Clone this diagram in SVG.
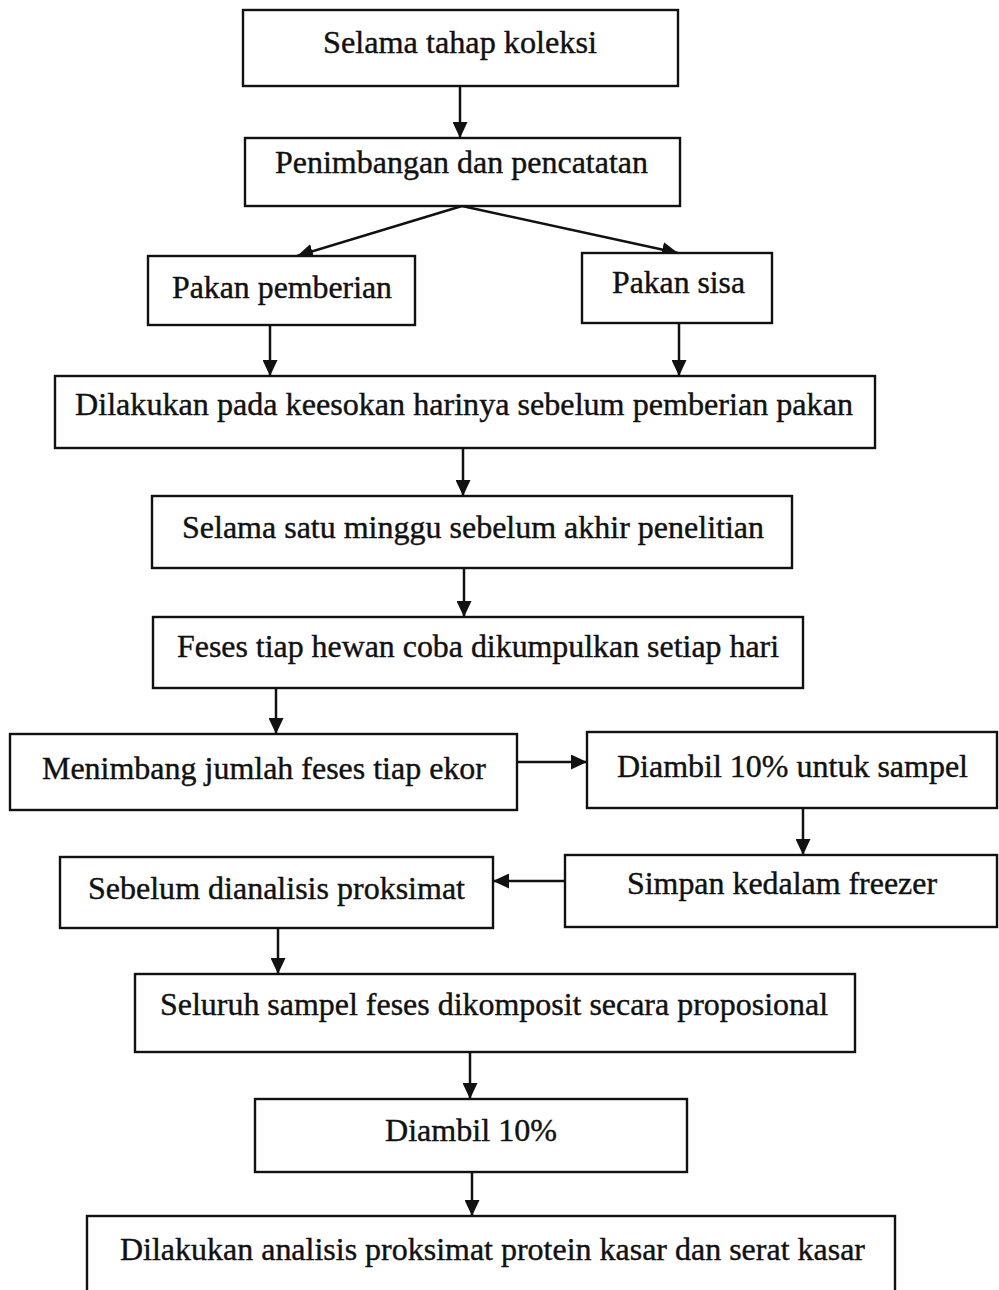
<svg xmlns="http://www.w3.org/2000/svg" width="999" height="1290" viewBox="0 0 999 1290">
<defs>
<marker id="ah" viewBox="0 0 16 15" refX="16" refY="7.5" markerWidth="16" markerHeight="15" markerUnits="userSpaceOnUse" orient="auto">
<path d="M0,0 L16,7.5 L0,15 Z" fill="#111"/>
</marker>
<style>
rect{fill:#fff;stroke:#111;stroke-width:2.4}
text{font-family:'Liberation Serif','Times New Roman',Times,serif;font-size:32px;fill:#111;stroke:#111;stroke-width:0.4}
.c line{stroke:#111;stroke-width:2.5;marker-end:url(#ah)}
</style>
</defs>
<rect x="0" y="0" width="999" height="1290" style="stroke:none"/>
<g class="c">
<line x1="460" y1="86" x2="460" y2="138"/>
<line x1="462" y1="206" x2="297" y2="256"/>
<line x1="462" y1="206" x2="678" y2="253"/>
<line x1="270" y1="325" x2="270" y2="376"/>
<line x1="679" y1="323" x2="679" y2="376"/>
<line x1="463" y1="448" x2="463" y2="496"/>
<line x1="464" y1="568" x2="464" y2="617"/>
<line x1="276" y1="688" x2="276" y2="734"/>
<line x1="517" y1="762" x2="587" y2="762"/>
<line x1="803" y1="808" x2="803" y2="855"/>
<line x1="565" y1="881" x2="493" y2="881"/>
<line x1="278" y1="928" x2="278" y2="974"/>
<line x1="470" y1="1052" x2="470" y2="1099"/>
<line x1="472" y1="1172" x2="472" y2="1216"/>
</g>
<g id="n1"><rect x="243" y="10" width="435" height="76"/><text font-family="Liberation Serif, serif" x="323" y="53" textLength="274" lengthAdjust="spacingAndGlyphs">Selama tahap koleksi</text></g>
<g id="n2"><rect x="245" y="138" width="435" height="68"/><text font-family="Liberation Serif, serif" x="275" y="173" textLength="373" lengthAdjust="spacingAndGlyphs">Penimbangan dan pencatatan</text></g>
<g id="n3"><rect x="148" y="256" width="267" height="69"/><text font-family="Liberation Serif, serif" x="172" y="298" textLength="220" lengthAdjust="spacingAndGlyphs">Pakan pemberian</text></g>
<g id="n4"><rect x="582" y="253" width="190" height="70"/><text font-family="Liberation Serif, serif" x="612" y="293" textLength="133" lengthAdjust="spacingAndGlyphs">Pakan sisa</text></g>
<g id="n5"><rect x="55" y="376" width="820" height="72"/><text font-family="Liberation Serif, serif" x="75" y="415" textLength="778" lengthAdjust="spacingAndGlyphs">Dilakukan pada keesokan harinya sebelum pemberian pakan</text></g>
<g id="n6"><rect x="152" y="496" width="640" height="72"/><text font-family="Liberation Serif, serif" x="182" y="538" textLength="582" lengthAdjust="spacingAndGlyphs">Selama satu minggu sebelum akhir penelitian</text></g>
<g id="n7"><rect x="153" y="617" width="650" height="71"/><text font-family="Liberation Serif, serif" x="177" y="657" textLength="602" lengthAdjust="spacingAndGlyphs">Feses tiap hewan coba dikumpulkan setiap hari</text></g>
<g id="n8"><rect x="10" y="734" width="507" height="76"/><text font-family="Liberation Serif, serif" x="42" y="779" textLength="444" lengthAdjust="spacingAndGlyphs">Menimbang jumlah feses tiap ekor</text></g>
<g id="n9"><rect x="587" y="732" width="410" height="76"/><text font-family="Liberation Serif, serif" x="617" y="777" textLength="351" lengthAdjust="spacingAndGlyphs">Diambil 10% untuk sampel</text></g>
<g id="n10"><rect x="565" y="855" width="432" height="72"/><text font-family="Liberation Serif, serif" x="627" y="894" textLength="310" lengthAdjust="spacingAndGlyphs">Simpan kedalam freezer</text></g>
<g id="n11"><rect x="60" y="857" width="433" height="71"/><text font-family="Liberation Serif, serif" x="88" y="899" textLength="377" lengthAdjust="spacingAndGlyphs">Sebelum dianalisis proksimat</text></g>
<g id="n12"><rect x="135" y="974" width="720" height="78"/><text font-family="Liberation Serif, serif" x="160" y="1015" textLength="668" lengthAdjust="spacingAndGlyphs">Seluruh sampel feses dikomposit secara proposional</text></g>
<g id="n13"><rect x="255" y="1099" width="432" height="73"/><text font-family="Liberation Serif, serif" x="385" y="1141" textLength="172" lengthAdjust="spacingAndGlyphs">Diambil 10%</text></g>
<g id="n14"><rect x="87" y="1216" width="808" height="80"/><text font-family="Liberation Serif, serif" x="120" y="1260" textLength="745" lengthAdjust="spacingAndGlyphs">Dilakukan analisis proksimat protein kasar dan serat kasar</text></g>
</svg>
